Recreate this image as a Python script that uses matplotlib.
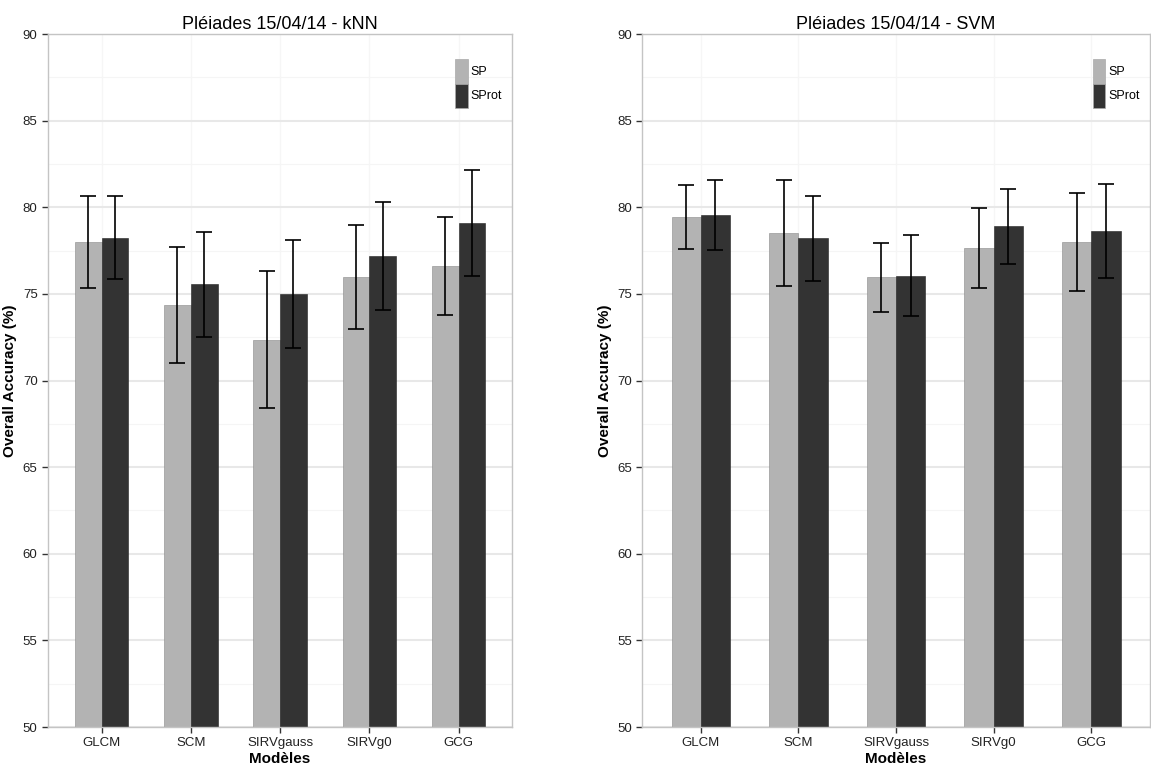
import matplotlib
matplotlib.use("Agg")
import matplotlib.pyplot as plt
import numpy as np
from matplotlib.patches import Patch

plt.rcParams["font.family"] = ["Liberation Sans", "DejaVu Sans"]

models = ["GLCM", "SCM", "SIRVgauss", "SIRVg0", "GCG"]
series = ["SP", "SProt"]

knn_sp = [78.0, 74.35, 72.35, 76.0, 76.6]
knn_sp_sd = [2.67, 3.35, 3.95, 3.0, 2.83]
knn_sprot = [78.25, 75.55, 75.0, 77.2, 79.1]
knn_sprot_sd = [2.4, 3.05, 3.1, 3.1, 3.07]

svm_sp = [79.45, 78.5, 75.95, 77.65, 78.0]
svm_sp_sd = [1.83, 3.07, 1.98, 2.3, 2.85]
svm_sprot = [79.55, 78.2, 76.05, 78.9, 78.65]
svm_sprot_sd = [2.02, 2.45, 2.35, 2.17, 2.72]

colors = ["#b3b3b3", "#333333"]


def draw_panel(ax, title, means, sds):
    x = np.arange(1, len(models) + 1)
    w = 0.3
    for k, (m, s) in enumerate(zip(means, sds)):
        pos = x + (k - 0.5) * w
        ax.bar(pos, np.array(m) - 50, bottom=50, width=w, color=colors[k],
               edgecolor="#8a8a8a" if k == 0 else "#222222", linewidth=0.4,
               zorder=2)
        ax.errorbar(pos, m, yerr=s, fmt="none", ecolor="black",
                    elinewidth=1.2, capsize=5.5, capthick=1.2, zorder=3)
    ax.set_xlim(0.4, 5.6)
    ax.set_ylim(50, 90)
    ax.set_xticks(x)
    ax.set_xticklabels(models, fontsize=9.5)
    ax.set_yticks(np.arange(50, 91, 5))
    ax.set_yticks(np.arange(52.5, 90, 5), minor=True)
    ax.tick_params(axis="both", which="major", labelsize=9.5, length=4,
                   color="#333333", labelcolor="#222222", width=1)
    ax.tick_params(axis="both", which="minor", length=0)
    ax.grid(True, which="major", axis="y", color="#e8e8e8", linewidth=1.5, zorder=0)
    ax.grid(True, which="major", axis="x", color="#f6f6f6", linewidth=1.0, zorder=0)
    ax.grid(True, which="minor", axis="y", color="#f5f5f5", linewidth=0.8, zorder=0)
    ax.set_axisbelow(True)
    for sp in ax.spines.values():
        sp.set_color("#c4c4c4")
        sp.set_linewidth(1.0)
    ax.set_title(title, fontsize=13, pad=4)
    ax.set_xlabel("Modèles", fontsize=11, fontweight="bold", labelpad=1.5)
    ax.set_ylabel("Overall Accuracy (%)", fontsize=11, fontweight="bold", labelpad=4)
    handles = [Patch(facecolor=c, edgecolor="#aaaaaa", linewidth=0.5) for c in colors]
    leg = ax.legend(handles, series, loc="upper right", bbox_to_anchor=(1.0, 0.978),
                    frameon=False, fontsize=9, handlelength=1.0, handleheight=2.6,
                    handletextpad=0.25, labelspacing=0.0, borderaxespad=0.4)
    return leg


fig = plt.figure(figsize=(11.51, 7.64), dpi=100)
ax1 = fig.add_axes([0.0417, 0.0484, 0.4033, 0.907])
ax2 = fig.add_axes([0.558, 0.0484, 0.441, 0.907])

draw_panel(ax1, "Pléiades 15/04/14 - kNN", [knn_sp, knn_sprot], [knn_sp_sd, knn_sprot_sd])
draw_panel(ax2, "Pléiades 15/04/14 - SVM", [svm_sp, svm_sprot], [svm_sp_sd, svm_sprot_sd])

fig.savefig("out.png", dpi=100)
